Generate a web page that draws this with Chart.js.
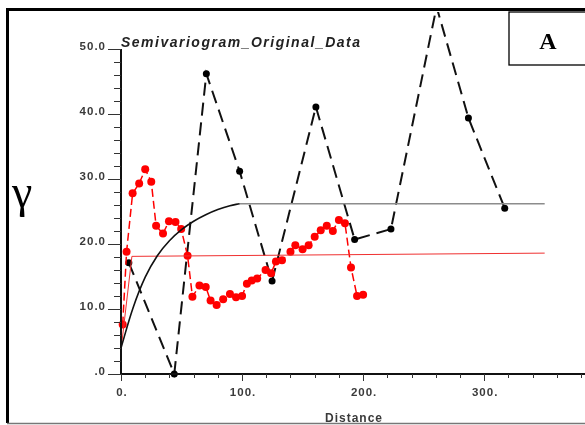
<!DOCTYPE html>
<html>
<head>
<meta charset="utf-8">
<script src="https://cdn.jsdelivr.net/npm/chart.js@4.4.1/dist/chart.umd.min.js"></script>
<style>
html, body { margin: 0; padding: 0; background: #fff; }
canvas { display: block; }
</style>
</head>
<body>
<canvas id="vario" width="585" height="425"></canvas>
<script>
// experimental semivariogram, black dashed series
const blackLags = [6.5, 44, 70.5, 98, 124.8, 161, 193, 223, 260.7, 287, 317];
const blackGamma = [17.1, 0, 46.2, 31.2, 14.3, 41.1, 20.7, 22.3, 56.5, 39.4, 25.5];

// experimental semivariogram, red series
const redLags = [1.4, 4.6, 9.6, 15, 20, 25, 29, 34.7, 39.6, 45, 49.7, 55, 59, 64.8, 70, 74, 79, 84.4, 90, 95, 100,
  104, 108, 112.5, 119.4, 124, 128, 133, 140, 144, 150, 155, 160, 165, 170, 175, 180, 185, 190, 195, 200];
const redGamma = [7.6, 18.8, 27.8, 29.3, 31.5, 29.6, 22.8, 21.6, 23.5, 23.4, 22.3, 18.2, 11.9, 13.6, 13.4, 11.3, 10.6, 11.5, 12.3, 11.8, 12.0,
  13.9, 14.4, 14.7, 16.0, 15.5, 17.3, 17.5, 18.8, 19.8, 19.2, 19.8, 21.1, 22.1, 22.8, 22.0, 23.7, 23.2, 16.4, 12.0, 12.2];

// fitted models
const blackModelLags = [0, 10, 20, 30, 40, 50, 60, 70, 80, 90, 98];
const blackModelGamma = [4.0, 10.2, 14.9, 18.2, 20.5, 22.2, 23.5, 24.5, 25.3, 25.9, 26.2];
const sillLags = [98, 350];
const sillGamma = [26.2, 26.2];
const redModelLags = [0, 9, 350];
const redModelGamma = [3.7, 18.1, 18.6];

// axis ticks
const xTickValues = [0, 100, 200, 300];
const xTickLabels = ['0.', '100.', '200.', '300.'];
const yTickValues = [0, 10, 20, 30, 40, 50];
const yTickLabels = ['.0', '10.0', '20.0', '30.0', '40.0', '50.0'];

function pts(xs, ys) {
  return xs.map((x, i) => ({ x: x, y: ys[i] }));
}

const clipBox = { left: 10, top: 0, right: 0, bottom: 10 };

// frame, axes, labels drawn by hand like the original plot
const decor = {
  id: 'decor',
  beforeDraw(chart) {
    const ctx = chart.ctx;
    ctx.save();
    ctx.fillStyle = '#fff';
    ctx.fillRect(0, 0, chart.width, chart.height);
    // outer frame
    ctx.strokeStyle = '#000';
    ctx.lineWidth = 3;
    ctx.beginPath();
    ctx.moveTo(600, 9.5);
    ctx.lineTo(7.5, 9.5);
    ctx.lineTo(7.5, 423);
    ctx.stroke();
    ctx.strokeStyle = '#777';
    ctx.lineWidth = 1.5;
    ctx.beginPath();
    ctx.moveTo(7, 423.5);
    ctx.lineTo(600, 423.5);
    ctx.stroke();
    ctx.restore();
  },
  afterDraw(chart) {
    const ctx = chart.ctx;
    const xs = chart.scales.x, ys = chart.scales.y;
    const x0 = xs.getPixelForValue(0), y0 = ys.getPixelForValue(0);
    const yTop = ys.getPixelForValue(50);
    ctx.save();
    ctx.strokeStyle = '#111';
    ctx.lineWidth = 2;
    ctx.beginPath();
    ctx.moveTo(x0, yTop);
    ctx.lineTo(x0, y0);
    ctx.lineTo(chart.width, y0);
    ctx.stroke();

    // y ticks
    ctx.lineWidth = 1;
    ctx.strokeStyle = '#333';
    for (let v = 0; v <= 50; v += 2) {
      const y = Math.round(ys.getPixelForValue(v)) + 0.5;
      const len = v % 10 === 0 ? 13 : 7;
      ctx.beginPath();
      ctx.moveTo(x0 - len, y);
      ctx.lineTo(x0, y);
      ctx.stroke();
    }
    // x ticks
    for (let v = 0; v <= 380; v += 20) {
      const x = Math.round(xs.getPixelForValue(v)) + 0.5;
      const len = v % 100 === 0 ? 7 : 4;
      ctx.beginPath();
      ctx.moveTo(x, y0);
      ctx.lineTo(x, y0 + len);
      ctx.stroke();
    }

    ctx.fillStyle = '#3a3a3a';
    ctx.font = 'bold 11.5px "Liberation Sans", Arial, sans-serif';
    ctx.letterSpacing = '1px';
    ctx.textAlign = 'right';
    ctx.textBaseline = 'alphabetic';
    yTickValues.forEach((v, i) => {
      ctx.fillText(yTickLabels[i], 106, ys.getPixelForValue(v) + 0.5);
    });
    ctx.textAlign = 'center';
    xTickValues.forEach((v, i) => {
      ctx.fillText(xTickLabels[i], xs.getPixelForValue(v) + 1, 396);
    });

    // axis title
    ctx.font = 'bold 12px "Liberation Sans", Arial, sans-serif';
    ctx.textAlign = 'left';
    ctx.fillText('Distance', 325, 422);

    // chart title
    ctx.fillStyle = '#222';
    ctx.font = 'italic bold 14px "Liberation Sans", Arial, sans-serif';
    ctx.letterSpacing = '1.5px';
    ctx.fillText('Semivariogram_Original_Data', 121, 47);

    // gamma symbol
    ctx.letterSpacing = '0px';
    ctx.fillStyle = '#000';
    ctx.font = '46px "Liberation Serif", "Times New Roman", serif';
    ctx.fillText('\u03b3', 12, 207);

    // panel box "A"
    ctx.strokeStyle = '#000';
    ctx.lineWidth = 1.3;
    ctx.strokeRect(509, 12, 100, 53);
    ctx.font = 'bold 24px "Liberation Serif", "Times New Roman", serif';
    ctx.textAlign = 'center';
    ctx.fillText('A', 548, 49);
    ctx.restore();
  }
};

new Chart(document.getElementById('vario'), {
  type: 'line',
  data: {
    datasets: [
      {
        label: 'black model',
        data: pts(blackModelLags, blackModelGamma),
        borderColor: '#111',
        borderWidth: 1.6,
        pointRadius: 0,
        tension: 0.4,
        clip: clipBox
      },
      {
        label: 'sill',
        data: pts(sillLags, sillGamma),
        borderColor: '#8c8c8c',
        borderWidth: 1.6,
        pointRadius: 0,
        clip: clipBox
      },
      {
        label: 'red model',
        data: pts(redModelLags, redModelGamma),
        borderColor: '#f03030',
        borderWidth: 1,
        pointRadius: 0,
        clip: clipBox
      },
      {
        label: 'red experimental',
        data: pts(redLags, redGamma),
        borderColor: '#f00',
        backgroundColor: '#f00',
        borderWidth: 1.5,
        borderDash: [8, 4],
        pointRadius: 4,
        pointBorderWidth: 0,
        clip: clipBox
      },
      {
        label: 'black experimental',
        data: pts(blackLags, blackGamma),
        borderColor: '#111',
        backgroundColor: '#000',
        borderWidth: 2,
        borderDash: [13, 7],
        pointRadius: 3.5,
        pointBorderWidth: 0,
        clip: clipBox
      }
    ]
  },
  options: {
    responsive: false,
    animation: false,
    layout: { padding: { left: 121, right: 0, top: 12, bottom: 51 } },
    plugins: {
      legend: { display: false },
      tooltip: { enabled: false },
      title: { display: false }
    },
    scales: {
      x: { type: 'linear', min: 0, max: 380, display: false },
      y: { type: 'linear', min: 0, max: 55.7, display: false }
    }
  },
  plugins: [decor]
});
</script>
</body>
</html>
